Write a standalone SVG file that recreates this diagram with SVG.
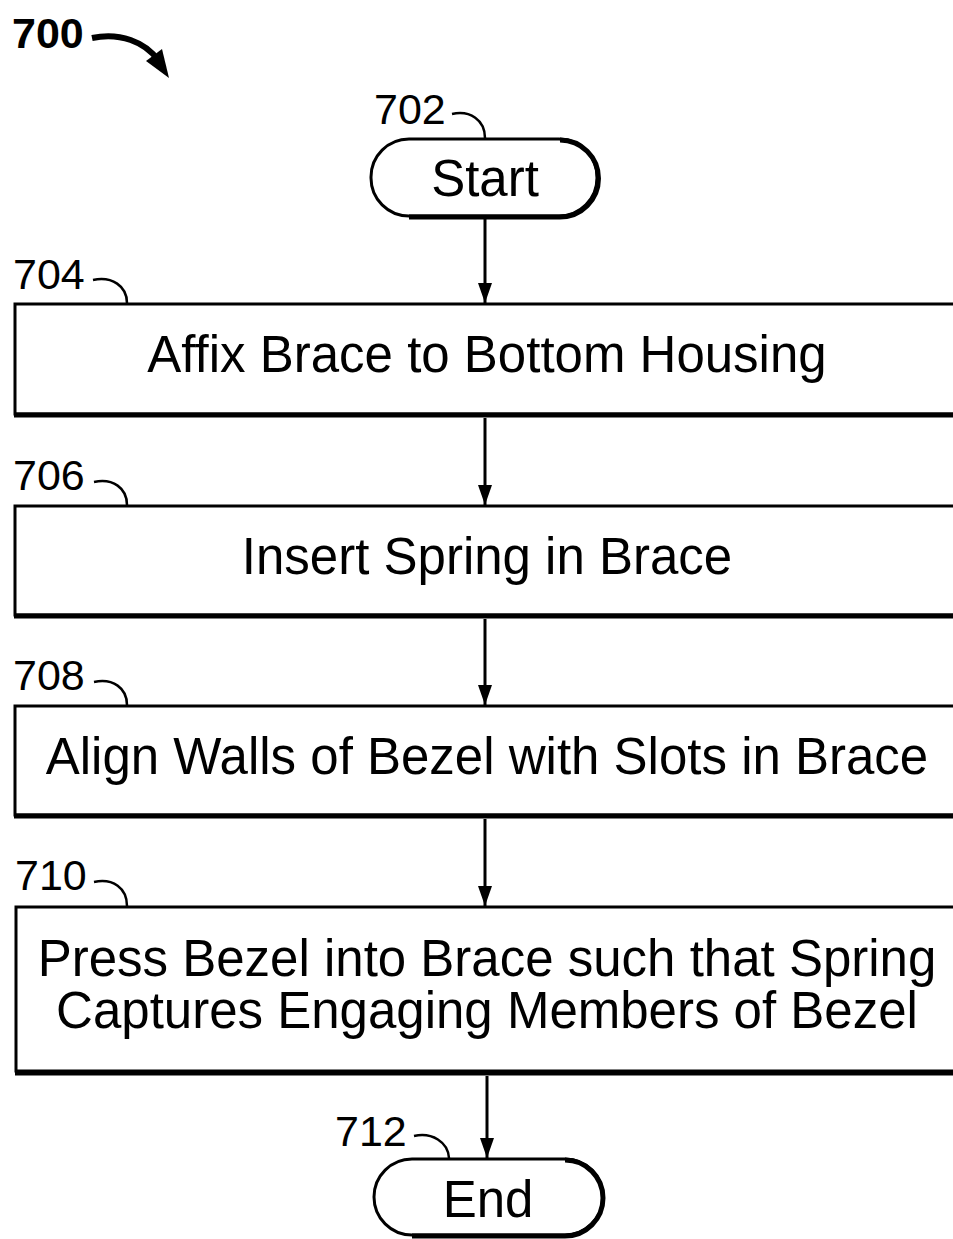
<svg xmlns="http://www.w3.org/2000/svg" width="953" height="1239" viewBox="0 0 953 1239">
<defs>
<marker id="ah" markerWidth="20" markerHeight="14" refX="20" refY="7" orient="auto" markerUnits="userSpaceOnUse" viewBox="0 0 20 14">
<path d="M0,0 L20,7 L0,14 Z" fill="#000"/>
</marker>
<style>
.box{fill:#fff;stroke:#000;stroke-width:3}
.shadow{fill:none;stroke:#000;stroke-width:5}
.t{font-family:"Liberation Sans",Arial,sans-serif;font-size:51px;fill:#000;text-anchor:middle}
.lbl{font-family:"Liberation Sans",Arial,sans-serif;font-size:43px;fill:#000}
.lead{fill:none;stroke:#000;stroke-width:2.5}
.conn{fill:none;stroke:#000;stroke-width:3}
</style>
</defs>
<rect width="953" height="1239" fill="#fff"/>
<g id="fig-label">
<text x="12" y="48" class="lbl" style="font-weight:bold">700</text>
<path d="M92,38 C120,32 145,42 158,60" fill="none" stroke="#000" stroke-width="6"/>
<path d="M146,61 L169,78 L162,49 Z" fill="#000"/>
</g>
<g id="n702">
<rect x="371" y="139" width="226" height="77" rx="38" class="box"/>
<path d="M560,140 A38,38 0 0 1 560,217 L409,217" fill="none" stroke="#000" stroke-width="5"/>
<text x="485" y="196" class="t">Start</text>
<text x="374" y="124" class="lbl">702</text>
<path d="M452,114 C470,110 485,120 485,138" class="lead"/>
</g>
<g id="n704">
<path d="M960,304 L15,304 L15,414 L960,414" class="box"/>
<line x1="14" y1="415" x2="960" y2="415" class="shadow"/>
<text x="487" y="372" class="t">Affix Brace to Bottom Housing</text>
<text x="13" y="289" class="lbl">704</text>
<path d="M93,280 C112,276 127,286 127,303" class="lead"/>
</g>
<g id="n706">
<path d="M960,506 L15,506 L15,615 L960,615" class="box"/>
<line x1="14" y1="616" x2="960" y2="616" class="shadow"/>
<text x="487" y="574" class="t">Insert Spring in Brace</text>
<text x="13" y="490" class="lbl">706</text>
<path d="M94,482 C113,478 127,488 127,505" class="lead"/>
</g>
<g id="n708">
<path d="M960,706 L15,706 L15,815 L960,815" class="box"/>
<line x1="14" y1="816" x2="960" y2="816" class="shadow"/>
<text x="487" y="774" class="t">Align Walls of Bezel with Slots in Brace</text>
<text x="13" y="690" class="lbl">708</text>
<path d="M94,682 C113,678 127,688 127,705" class="lead"/>
</g>
<g id="n710">
<path d="M960,907 L16,907 L16,1071 L960,1071" class="box"/>
<line x1="15" y1="1073" x2="960" y2="1073" class="shadow"/>
<text x="487" y="976" class="t">Press Bezel into Brace such that Spring</text>
<text x="487" y="1028" class="t">Captures Engaging Members of Bezel</text>
<text x="15" y="890" class="lbl">710</text>
<path d="M94,882 C113,878 127,888 127,906" class="lead"/>
</g>
<g id="n712">
<rect x="374" y="1159" width="229" height="76" rx="38" class="box"/>
<path d="M565,1160 A38,38 0 0 1 565,1236 L412,1236" fill="none" stroke="#000" stroke-width="5"/>
<text x="488" y="1217" class="t">End</text>
<text x="335" y="1146" class="lbl">712</text>
<path d="M414,1136 C432,1132 448,1142 449,1158" class="lead"/>
</g>
<g id="connectors">
<line x1="485" y1="219" x2="485" y2="303" class="conn" marker-end="url(#ah)"/>
<line x1="485" y1="418" x2="485" y2="505" class="conn" marker-end="url(#ah)"/>
<line x1="485" y1="619" x2="485" y2="705" class="conn" marker-end="url(#ah)"/>
<line x1="485" y1="819" x2="485" y2="906" class="conn" marker-end="url(#ah)"/>
<line x1="487" y1="1076" x2="487" y2="1158" class="conn" marker-end="url(#ah)"/>
</g>
</svg>
